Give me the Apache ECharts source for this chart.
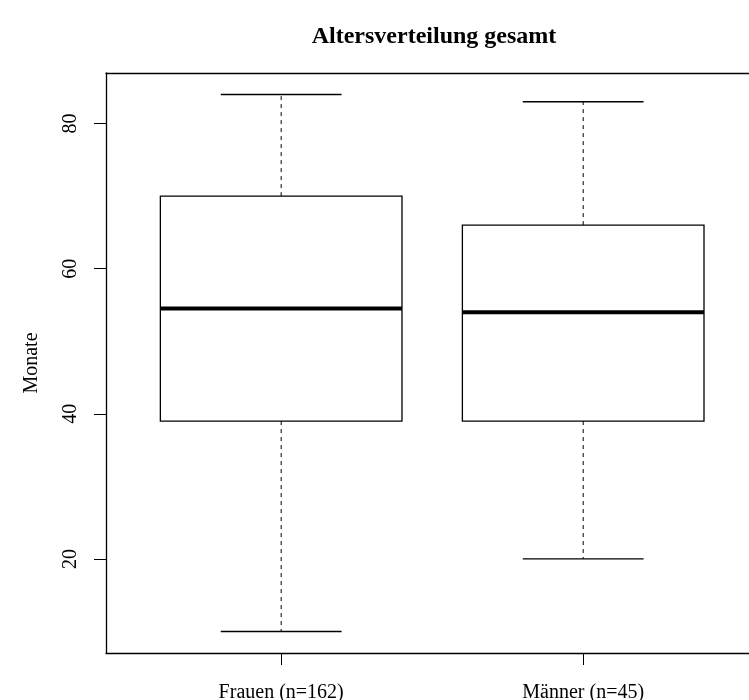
<!DOCTYPE html>
<html>
<head>
<meta charset="utf-8">
<script src="https://cdn.jsdelivr.net/npm/echarts@6/dist/echarts.min.js"></script>
<style>html,body{margin:0;padding:0;background:#fff}#c{width:749px;height:700px}</style>
</head>
<body>
<div id="c"></div>
<script>
const categories = ['Frauen (n=162)', 'Männer (n=45)'];
const positions = [1, 2];
const whiskerLow = [10, 20];
const q1 = [39, 39];
const medians = [54.5, 54];
const q3 = [70, 66];
const whiskerHigh = [84, 83];
const yTicks = [20, 40, 60, 80];

const data = categories.map((c, i) => [positions[i], whiskerLow[i], q1[i], medians[i], q3[i], whiskerHigh[i]]);
const FONT = '"Liberation Serif", "DejaVu Serif", serif';
const XMIN = 0.42, XMAX = 2.549;

const chart = echarts.init(document.getElementById('c'), null, {renderer: 'canvas'});
chart.setOption({
  animation: false,
  backgroundColor: '#fff',
  title: {
    text: 'Altersverteilung gesamt',
    left: 429, top: 20, textAlign: 'center',
    textStyle: {fontFamily: FONT, fontWeight: 'bold', fontSize: 24, color: '#000'}
  },
  grid: {left: 106, top: 73, width: 643, height: 580, show: false, outerBoundsMode: 'none', containLabel: false},
  xAxis: [{
    type: 'value', min: XMIN, max: XMAX, position: 'bottom',
    splitLine: {show: false},
    axisLine: {show: true, lineStyle: {color: '#000', width: 1.3}},
    axisTick: {show: true, customValues: positions, length: 12, lineStyle: {color: '#000', width: 1}},
    axisLabel: {customValues: positions, margin: 30, fontFamily: FONT, fontSize: 20, color: '#000',
      formatter: v => categories[positions.indexOf(Math.round(v))] || ''}
  }, {
    type: 'value', min: XMIN, max: XMAX, position: 'top',
    splitLine: {show: false},
    axisLine: {show: true, lineStyle: {color: '#000', width: 1.3}},
    axisTick: {show: false}, axisLabel: {show: false}
  }],
  yAxis: {
    type: 'value', min: 7.04, max: 86.96,
    name: 'Monate', nameLocation: 'middle', nameRotate: 90, nameGap: 64,
    nameTextStyle: {fontFamily: FONT, fontSize: 20, color: '#000'},
    splitLine: {show: false},
    axisLine: {show: true, lineStyle: {color: '#000', width: 1.3}},
    axisTick: {show: true, customValues: yTicks, length: 12, lineStyle: {color: '#000', width: 1}},
    axisLabel: {customValues: yTicks, rotate: 90, margin: 25, fontFamily: FONT, fontSize: 20, color: '#000'}
  },
  series: [{
    type: 'custom',
    xAxisIndex: 0,
    data: data,
    encode: {x: 0, y: [1, 2, 3, 4, 5]},
    renderItem: function (params, api) {
      const x = api.value(0);
      const lo = api.value(1), a = api.value(2), m = api.value(3), b = api.value(4), hi = api.value(5);
      const pL = api.coord([x - 0.4, b]);
      const pR = api.coord([x + 0.4, a]);
      const cL = api.coord([x - 0.2, hi])[0];
      const cR = api.coord([x + 0.2, hi])[0];
      const cx = api.coord([x, m])[0];
      const yLo = api.coord([x, lo])[1], yA = api.coord([x, a])[1], yM = api.coord([x, m])[1], yB = api.coord([x, b])[1], yHi = api.coord([x, hi])[1];
      const solid = {stroke: '#000', lineWidth: 1.3, fill: null};
      const dashed = {stroke: '#000', lineWidth: 1, lineDash: [4, 4], fill: null};
      return {
        type: 'group',
        children: [
          {type: 'line', shape: {x1: cx, y1: yB, x2: cx, y2: yHi}, style: dashed},
          {type: 'line', shape: {x1: cx, y1: yA, x2: cx, y2: yLo}, style: dashed},
          {type: 'line', shape: {x1: cL, y1: yHi, x2: cR, y2: yHi}, style: solid},
          {type: 'line', shape: {x1: cL, y1: yLo, x2: cR, y2: yLo}, style: solid},
          {type: 'rect', shape: {x: pL[0], y: pL[1], width: pR[0] - pL[0], height: pR[1] - pL[1]}, style: {stroke: '#000', lineWidth: 1.3, fill: '#fff'}},
          {type: 'line', shape: {x1: pL[0], y1: yM, x2: pR[0], y2: yM}, style: {stroke: '#000', lineWidth: 4}}
        ]
      };
    }
  }]
});
</script>
</body>
</html>
